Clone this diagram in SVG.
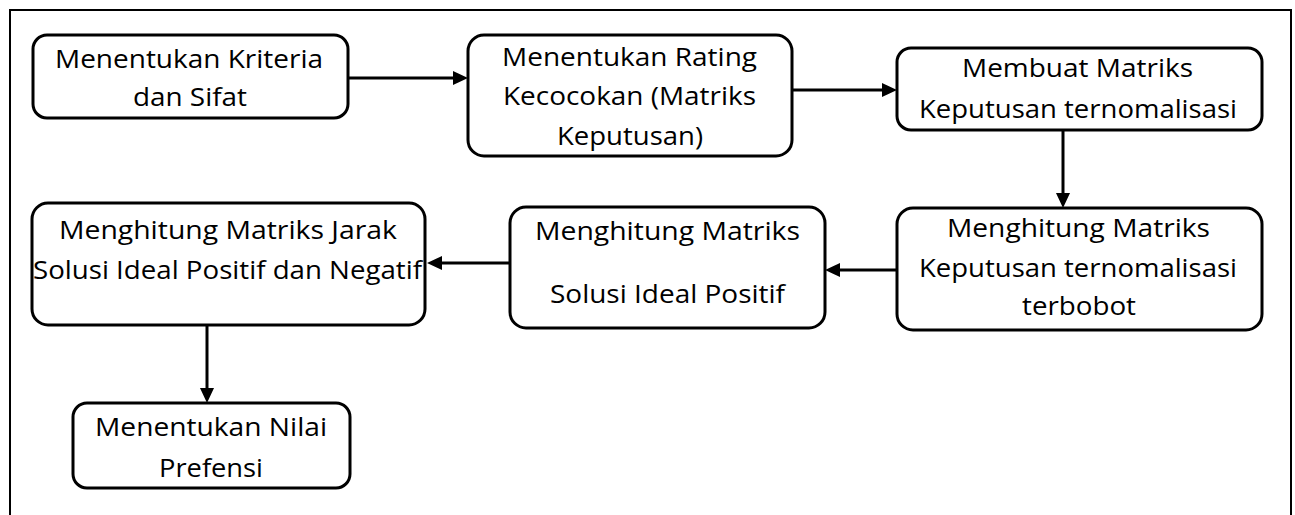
<svg xmlns="http://www.w3.org/2000/svg" width="1295" height="515" viewBox="0 0 1295 515">
<style>
.frame{fill:none;stroke:#000;stroke-width:2}
.box{fill:#fff;stroke:#000;stroke-width:3}
.lbl{font-family:"Open Sans","Noto Sans",sans-serif;font-size:25.5px;fill:#000;text-anchor:middle}
.conn{stroke:#000;stroke-width:3;fill:none;marker-end:url(#ah)}
</style>
<defs>
<marker id="ah" markerUnits="userSpaceOnUse" markerWidth="16" markerHeight="16" refX="0" refY="7" orient="auto" overflow="visible">
<path d="M0,0 L15,7 L0,14 Z" fill="#000"/>
</marker>
</defs>
<rect x="0" y="0" width="1295" height="515" fill="#fff"/>
<path class="frame" d="M10,515 V10 H1291 V515"/>
<g id="connectors">
<line class="conn" x1="348" y1="78" x2="453" y2="78"/>
<line class="conn" x1="792" y1="90" x2="882" y2="90"/>
<line class="conn" x1="1063" y1="130" x2="1063" y2="193"/>
<line class="conn" x1="897" y1="270" x2="840" y2="270"/>
<line class="conn" x1="510" y1="263" x2="442" y2="263"/>
<line class="conn" x1="207" y1="325" x2="207" y2="388"/>
</g>
<g id="n1">
<rect class="box" x="33" y="35" width="315" height="83" rx="14"/>
<text class="lbl" x="189" y="68" textLength="268" lengthAdjust="spacingAndGlyphs">Menentukan Kriteria</text>
<text class="lbl" x="190" y="106" textLength="114" lengthAdjust="spacingAndGlyphs">dan Sifat</text>
</g>
<g id="n2">
<rect class="box" x="468" y="35" width="324" height="121" rx="16"/>
<text class="lbl" x="629.5" y="65.5" textLength="255" lengthAdjust="spacingAndGlyphs">Menentukan Rating</text>
<text class="lbl" x="629.5" y="105" textLength="253" lengthAdjust="spacingAndGlyphs">Kecocokan (Matriks</text>
<text class="lbl" x="630" y="145" textLength="146" lengthAdjust="spacingAndGlyphs">Keputusan)</text>
</g>
<g id="n3">
<rect class="box" x="897" y="48" width="365" height="82" rx="14"/>
<text class="lbl" x="1077.5" y="77" textLength="231" lengthAdjust="spacingAndGlyphs">Membuat Matriks</text>
<text class="lbl" x="1078" y="118" textLength="318" lengthAdjust="spacingAndGlyphs">Keputusan ternomalisasi</text>
</g>
<g id="n4">
<rect class="box" x="897" y="208" width="365" height="122" rx="16"/>
<text class="lbl" x="1078.5" y="237" textLength="263" lengthAdjust="spacingAndGlyphs">Menghitung Matriks</text>
<text class="lbl" x="1078" y="277" textLength="318" lengthAdjust="spacingAndGlyphs">Keputusan ternomalisasi</text>
<text class="lbl" x="1079" y="315" textLength="114" lengthAdjust="spacingAndGlyphs">terbobot</text>
</g>
<g id="n5">
<rect class="box" x="510" y="207" width="315" height="121" rx="16"/>
<text class="lbl" x="667.5" y="240" textLength="265" lengthAdjust="spacingAndGlyphs">Menghitung Matriks</text>
<text class="lbl" x="667.5" y="303" textLength="235" lengthAdjust="spacingAndGlyphs">Solusi Ideal Positif</text>
</g>
<g id="n6">
<rect class="box" x="32" y="203" width="393" height="122" rx="16"/>
<text class="lbl" x="228" y="239" textLength="338" lengthAdjust="spacingAndGlyphs">Menghitung Matriks Jarak</text>
<text class="lbl" x="227.5" y="279" textLength="389" lengthAdjust="spacingAndGlyphs">Solusi Ideal Positif dan Negatif</text>
</g>
<g id="n7">
<rect class="box" x="73" y="403" width="277" height="85" rx="14"/>
<text class="lbl" x="211" y="436" textLength="232" lengthAdjust="spacingAndGlyphs">Menentukan Nilai</text>
<text class="lbl" x="211" y="477" textLength="104" lengthAdjust="spacingAndGlyphs">Prefensi</text>
</g>
</svg>
